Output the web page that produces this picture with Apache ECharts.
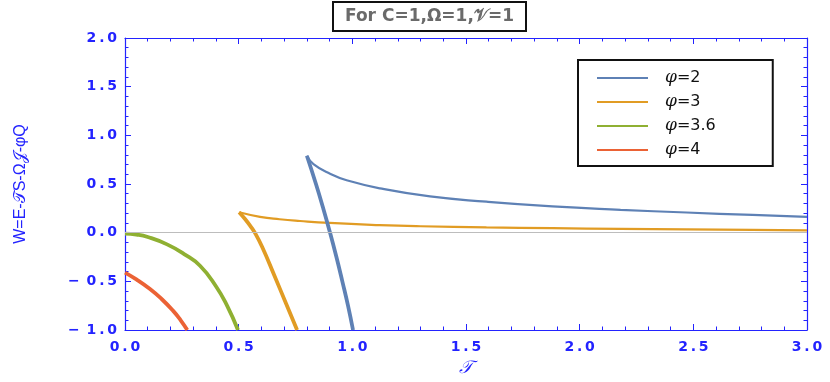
<!DOCTYPE html>
<html lang="en">
<head>
    <meta charset="UTF-8">
    <title>W vs T</title>
    <script src="https://cdn.jsdelivr.net/npm/echarts@6/dist/echarts.min.js"></script>
    <style>
        body {
            margin: 0;
            background: #fff;
            overflow: hidden;
        }

        #chart {
            width: 830px;
            height: 382px;
        }
    </style>
</head>
<body>
<div id="chart"></div>
<script>
    const phiNames = ['φ=2', 'φ=3', 'φ=3.6', 'φ=4'];
    const colors = ['#5e81b5', '#e19c24', '#8fb032', '#eb6235'];

    // φ=2 : steep branch and flat branch meeting at the cusp
    const phi2SteepT = [0.80, 0.840, 0.872, 0.902, 0.930, 0.956, 0.981, 1.003];
    const phi2SteepW = [0.79, 0.50, 0.25, 0.0, -0.25, -0.50, -0.75, -1.0];
    const phi2FlatT = [0.80, 0.829, 0.902, 0.975, 1.122, 1.342, 1.59, 1.88, 2.18, 2.47, 2.76, 3.0];
    const phi2FlatW = [0.79, 0.705, 0.605, 0.538, 0.455, 0.372, 0.318, 0.27, 0.235, 0.207, 0.182, 0.163];

    // φ=3
    const phi3SteepT = [0.502, 0.528, 0.551, 0.571, 0.604, 0.657, 0.707, 0.757];
    const phi3SteepW = [0.21, 0.14, 0.07, 0.0, -0.15, -0.44, -0.72, -1.0];
    const phi3FlatT = [0.502, 0.594, 0.68, 0.77, 0.90, 1.12, 1.30, 1.59, 1.88, 2.18, 2.47, 2.76, 3.0];
    const phi3FlatW = [0.21, 0.163, 0.138, 0.12, 0.10, 0.078, 0.066, 0.054, 0.046, 0.039, 0.033, 0.028, 0.024];

    // φ=3.6
    const phi36T = [0, 0.05, 0.1, 0.185, 0.26, 0.33, 0.40, 0.449, 0.497];
    const phi36W = [-0.01, -0.02, -0.045, -0.12, -0.22, -0.34, -0.55, -0.75, -1.0];

    // φ=4
    const phi4T = [0, 0.05, 0.11, 0.16, 0.211, 0.245, 0.274];
    const phi4W = [-0.41, -0.48, -0.579, -0.679, -0.801, -0.90, -1.0];

    const xRange = [0, 3];
    const yRange = [-1, 2];

    function pairs(xs, ys) {
        return xs.map((x, i) => [x, ys[i]]);
    }

    function spaced(s) {
        return s.split('').join('\u2009');
    }

    function tickText(v) {
        const s = spaced(Math.abs(v).toFixed(1));
        return v < 0 ? '\u2212\u2002' + s : s;
    }

    function curve(name, color, data, width) {
        return {
            name: name,
            type: 'line',
            data: data,
            symbol: 'none',
            smooth: 0.5,
            color: color,
            lineStyle: {color: color, width: width},
            animation: false
        };
    }

    const blue = '#2323ff';
    const labelStyle = {
        color: blue,
        fontFamily: 'DejaVu Sans',
        fontWeight: 'bold',
        fontSize: 14
    };

    function axisCommon(showLabel) {
        return {
            type: 'value',
            interval: 0.5,
            axisLine: {show: true, onZero: false, lineStyle: {color: blue, width: 1.2}},
            axisTick: {show: true, inside: true, length: 6, lineStyle: {color: blue}},
            minorTick: {show: true, splitNumber: 5, length: 3.5, lineStyle: {color: blue}},
            splitLine: {show: false},
            axisLabel: Object.assign({show: showLabel, formatter: tickText}, labelStyle)
        };
    }

    const series = [
        curve(phiNames[0], colors[0], pairs(phi2FlatT, phi2FlatW), 2.2),
        curve(phiNames[1], colors[1], pairs(phi3FlatT, phi3FlatW), 2.2),
        curve(phiNames[2], colors[2], pairs(phi36T, phi36W), 3.8),
        curve(phiNames[3], colors[3], pairs(phi4T, phi4W), 3.8),
        curve(phiNames[1], colors[1], pairs(phi3SteepT, phi3SteepW), 3.8),
        curve(phiNames[0], colors[0], pairs(phi2SteepT, phi2SteepW), 3.8)
    ];
    series[0].markLine = {
        silent: true,
        symbol: 'none',
        label: {show: false},
        lineStyle: {color: '#bdbdbd', width: 1, type: 'solid'},
        data: [{yAxis: 0}]
    };

    const xBottom = Object.assign(axisCommon(true), {
        position: 'bottom',
        min: xRange[0],
        max: xRange[1],
        name: '𝒯',
        nameLocation: 'middle',
        nameGap: 29,
        nameTextStyle: {color: blue, fontFamily: 'DejaVu Serif', fontStyle: 'italic', fontSize: 18}
    });
    xBottom.axisLabel.margin = 10;

    const chart = echarts.init(document.getElementById('chart'));
    chart.setOption({
        backgroundColor: '#fff',
        animation: false,
        title: {
            text: 'For C=1,Ω=1,𝒱=1',
            left: 333,
            top: 2,
            padding: [6, 12, 6, 12],
            borderColor: '#111',
            borderWidth: 2,
            backgroundColor: '#fff',
            textStyle: {
                color: '#6a6a6a',
                fontFamily: 'DejaVu Sans',
                fontWeight: 'bold',
                fontSize: 17
            }
        },
        legend: {
            data: phiNames,
            orient: 'vertical',
            left: 578,
            top: 60,
            padding: [8, 57, 6, 18],
            itemWidth: 51,
            itemHeight: 14,
            itemGap: 4,
            borderColor: '#111',
            borderWidth: 2,
            backgroundColor: '#fff',
            lineStyle: {width: 2},
            itemStyle: {opacity: 0},
            formatter: name => '{i|φ}' + name.slice(1),
            textStyle: {
                color: '#111',
                fontFamily: 'DejaVu Sans',
                fontSize: 16,
                lineHeight: 20,
                padding: [0, 0, 0, 12],
                rich: {
                    i: {fontFamily: 'DejaVu Serif', fontStyle: 'italic', fontSize: 17, lineHeight: 20, color: '#111'}
                }
            }
        },
        grid: {
            left: 125,
            top: 38,
            width: 682,
            height: 301
        },
        xAxis: [
            xBottom,
            Object.assign(axisCommon(false), {position: 'top', min: xRange[0], max: xRange[1]})
        ],
        yAxis: [
            Object.assign(axisCommon(true), {
                position: 'left',
                min: yRange[0],
                max: yRange[1],
                name: 'W=E-𝒯S-Ω𝒥-φQ',
                nameLocation: 'middle',
                nameGap: 96,
                nameTextStyle: {color: blue, fontFamily: 'Liberation Sans', fontSize: 16}
            }),
            Object.assign(axisCommon(false), {position: 'right', min: yRange[0], max: yRange[1]})
        ],
        series: series
    });
</script>
</body>
</html>
